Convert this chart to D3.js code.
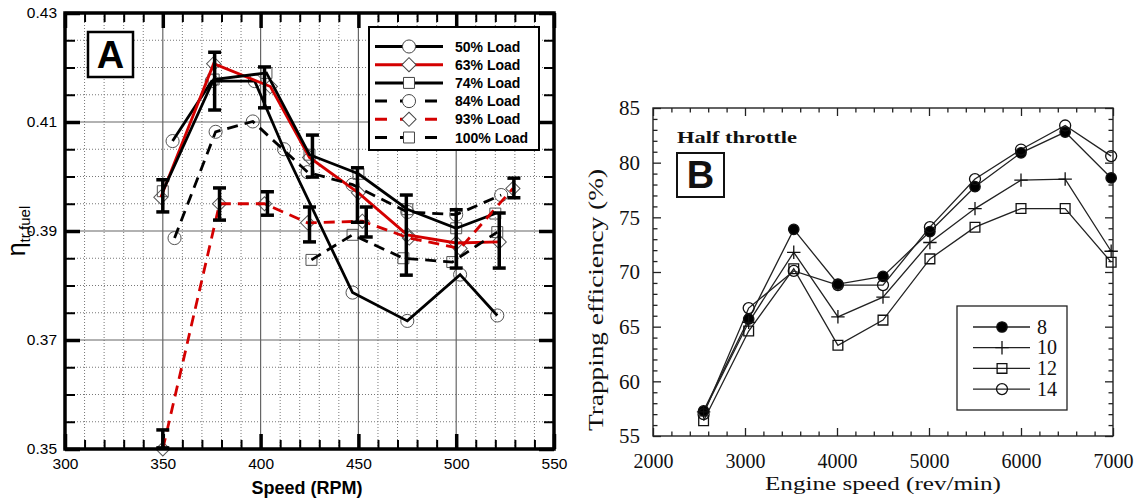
<!DOCTYPE html>
<html>
<head>
<meta charset="utf-8">
<script src="https://cdn.jsdelivr.net/npm/d3@7"></script>
<style>
body { margin: 0; background: #fff; }
svg { display: block; }
</style>
</head>
<body>
<svg id="chart" width="1139" height="502"></svg>
<script>
// ---- panel A data ----
speedTicks = [300, 350, 400, 450, 500, 550];
etaTicks = [0.35, 0.37, 0.39, 0.41, 0.43];
loadNames = ['50% Load', '63% Load', '74% Load', '84% Load', '93% Load', '100% Load'];

speed50 = [355, 375, 397, 412, 447, 475, 502, 521];
eta50 = [0.4065, 0.4175, 0.4175, 0.405, 0.3787, 0.3735, 0.382, 0.3745];
speed63 = [349, 376, 405, 425, 450, 475, 500, 522];
eta63 = [0.3962, 0.4207, 0.4165, 0.4035, 0.397, 0.3893, 0.3878, 0.388];
speed74 = [350, 376, 403, 425, 450, 475, 500, 520];
eta74 = [0.3973, 0.4178, 0.419, 0.404, 0.4005, 0.394, 0.3905, 0.3932];
speed84 = [356, 377, 396, 424, 447, 475, 500, 523];
eta84 = [0.3887, 0.4082, 0.4101, 0.4008, 0.3985, 0.3935, 0.393, 0.3966];
speed93 = [350, 379, 402, 424, 452, 476, 502, 529];
eta93 = [0.35, 0.395, 0.395, 0.3915, 0.3918, 0.3887, 0.3868, 0.3978];
speed100 = [426, 447, 473, 498, 521];
eta100 = [0.3847, 0.3893, 0.385, 0.3843, 0.3898];

errSpeed = [350, 376.5, 379, 402, 403.5, 426.5, 425, 449.5, 454, 474.5, 500, 522, 529.5, 350];
errLow = [0.3935, 0.4122, 0.392, 0.4126, 0.3929, 0.3999, 0.388, 0.3916, 0.3889, 0.3819, 0.3832, 0.3832, 0.3961, 0.3502];
errHigh = [0.3994, 0.4228, 0.3979, 0.4201, 0.3972, 0.4076, 0.3944, 0.4016, 0.3944, 0.3966, 0.3939, 0.3933, 0.3997, 0.3535];

// ---- panel B data ----
rpmTicks = [2000, 3000, 4000, 5000, 6000, 7000];
teTicks = [55, 60, 65, 70, 75, 80, 85];
ratioNames = ['8', '10', '12', '14'];
rpmB = [2550, 3040, 3530, 4010, 4500, 5010, 5500, 6000, 6480, 6980];
te8 = [57.3, 65.7, 73.9, 68.9, 69.6, 73.7, 77.8, 80.9, 82.8, 78.6];
te10 = [57.2, 65.4, 71.8, 65.9, 67.7, 72.7, 75.8, 78.4, 78.5, 71.9];
te12 = [56.4, 64.6, 70.3, 63.3, 65.6, 71.2, 74.1, 75.8, 75.8, 70.9];
te14 = [57.0, 66.7, 70.1, 68.8, 68.8, 74.1, 78.5, 81.2, 83.4, 80.6];

svg = d3.select('#chart');

function zip(xs, ys) {
    return xs.map(function(x, i) { return [x, ys[i]]; });
}

// custom thin plus symbol
plusType = {
    draw: function(ctx, size) {
        var r = Math.sqrt(size) / 2;
        ctx.moveTo(-r, 0); ctx.lineTo(r, 0);
        ctx.moveTo(0, -r); ctx.lineTo(0, r);
    }
};

function cleanAxis(g, font, size, color) {
    g.select('.domain').remove();
    g.attr('font-family', font).attr('font-size', size);
    g.selectAll('text').attr('fill', color);
}

/* ================= PANEL A ================= */
xA = d3.scaleLinear().domain([300, 550]).range([65, 554]);
yA = d3.scaleLinear().domain([0.35, 0.43]).range([449, 13]);
gA = svg.append('g');

minorSpeed = xA.ticks(25).filter(function(d) { return speedTicks.indexOf(d) < 0; });
minorEta = d3.range(0, 17).map(function(i) { return +(0.35 + i * 0.005).toFixed(3); })
    .filter(function(d) { return etaTicks.indexOf(d) < 0; });

// grid
gA.selectAll('.vdot').data(minorSpeed).enter().append('line')
    .attr('x1', function(d) { return xA(d); }).attr('x2', function(d) { return xA(d); })
    .attr('y1', yA(0.43)).attr('y2', yA(0.35))
    .attr('stroke', '#777').attr('stroke-width', 1).attr('stroke-dasharray', '1,2');
gA.selectAll('.hdot').data(minorEta).enter().append('line')
    .attr('y1', function(d) { return yA(d); }).attr('y2', function(d) { return yA(d); })
    .attr('x1', xA(300)).attr('x2', xA(550))
    .attr('stroke', '#777').attr('stroke-width', 1).attr('stroke-dasharray', '1,2');
gA.selectAll('.vmaj').data(speedTicks.slice(1, -1)).enter().append('line')
    .attr('x1', function(d) { return xA(d); }).attr('x2', function(d) { return xA(d); })
    .attr('y1', yA(0.43)).attr('y2', yA(0.35))
    .attr('stroke', '#666').attr('stroke-width', 1.2);
gA.selectAll('.hmaj').data(etaTicks.slice(1, -1)).enter().append('line')
    .attr('y1', function(d) { return yA(d); }).attr('y2', function(d) { return yA(d); })
    .attr('x1', xA(300)).attr('x2', xA(550))
    .attr('stroke', '#666').attr('stroke-width', 1.2);

// axes, ticks pointing inward
ax = gA.append('g').attr('transform', 'translate(0,' + yA(0.35) + ')')
    .call(d3.axisBottom(xA).tickValues(speedTicks).tickSize(-15).tickPadding(9).tickFormat(d3.format('d')));
cleanAxis(ax, 'Liberation Sans, Arial, sans-serif', 15.5, '#000');
ax.selectAll('line').attr('stroke-width', 3.5);
ax = gA.append('g').attr('transform', 'translate(0,' + yA(0.35) + ')')
    .call(d3.axisBottom(xA).tickValues(minorSpeed).tickSize(-9).tickFormat(''));
cleanAxis(ax, 'sans-serif', 10, '#000');
ax.selectAll('line').attr('stroke-width', 2);
ax = gA.append('g').attr('transform', 'translate(0,' + yA(0.43) + ')')
    .call(d3.axisTop(xA).tickValues(speedTicks).tickSize(-15).tickFormat(''));
cleanAxis(ax, 'sans-serif', 10, '#000');
ax.selectAll('line').attr('stroke-width', 3.5);
ax = gA.append('g').attr('transform', 'translate(0,' + yA(0.43) + ')')
    .call(d3.axisTop(xA).tickValues(minorSpeed).tickSize(-9).tickFormat(''));
cleanAxis(ax, 'sans-serif', 10, '#000');
ax.selectAll('line').attr('stroke-width', 2);

ax = gA.append('g').attr('transform', 'translate(' + xA(300) + ',0)')
    .call(d3.axisLeft(yA).tickValues(etaTicks).tickSize(-15).tickPadding(8).tickFormat(d3.format('.2f')));
cleanAxis(ax, 'Liberation Sans, Arial, sans-serif', 15.5, '#000');
ax.selectAll('line').attr('stroke-width', 3.5);
ax = gA.append('g').attr('transform', 'translate(' + xA(300) + ',0)')
    .call(d3.axisLeft(yA).tickValues(minorEta).tickSize(-10).tickFormat(''));
cleanAxis(ax, 'sans-serif', 10, '#000');
ax.selectAll('line').attr('stroke-width', 2);
ax = gA.append('g').attr('transform', 'translate(' + xA(550) + ',0)')
    .call(d3.axisRight(yA).tickValues(etaTicks).tickSize(-15).tickFormat(''));
cleanAxis(ax, 'sans-serif', 10, '#000');
ax.selectAll('line').attr('stroke-width', 3.5);
ax = gA.append('g').attr('transform', 'translate(' + xA(550) + ',0)')
    .call(d3.axisRight(yA).tickValues(minorEta).tickSize(-10).tickFormat(''));
cleanAxis(ax, 'sans-serif', 10, '#000');
ax.selectAll('line').attr('stroke-width', 2);

// series
seriesA = [zip(speed50, eta50), zip(speed63, eta63), zip(speed74, eta74),
           zip(speed84, eta84), zip(speed93, eta93), zip(speed100, eta100)];
colorA = ['#000', '#d40000', '#000', '#000', '#d40000', '#000'];
dashA = [null, null, null, '11,7', '11,7', '11,7'];
symA = [d3.symbolCircle, d3.symbolSquare, d3.symbolSquare, d3.symbolCircle, d3.symbolSquare, d3.symbolSquare];
symSizeA = [135, 100, 120, 135, 100, 120];
symRotA = [0, 45, 0, 0, 45, 0];

lineA = d3.line().x(function(d) { return xA(d[0]); }).y(function(d) { return yA(d[1]); });

seriesA.forEach(function(pts, i) {
    gA.append('g').selectAll('path').data(pts).enter().append('path')
        .attr('d', d3.symbol().type(symA[i]).size(symSizeA[i]))
        .attr('transform', function(d) { return 'translate(' + xA(d[0]) + ',' + yA(d[1]) + ') rotate(' + symRotA[i] + ')'; })
        .attr('fill', 'none').attr('stroke', '#555').attr('stroke-width', 1);
});
seriesA.forEach(function(pts, i) {
    gA.append('path').datum(pts)
        .attr('d', lineA)
        .attr('fill', 'none')
        .attr('stroke', colorA[i])
        .attr('stroke-width', 2.8)
        .attr('stroke-dasharray', dashA[i]);
});

// error bars
errA = errSpeed.map(function(s, i) { return {s: s, lo: errLow[i], hi: errHigh[i]}; });
eb = gA.append('g').attr('stroke', '#000').attr('stroke-width', 3.5);
eb.selectAll('.ev').data(errA).enter().append('line')
    .attr('x1', function(d) { return xA(d.s); }).attr('x2', function(d) { return xA(d.s); })
    .attr('y1', function(d) { return yA(d.lo); }).attr('y2', function(d) { return yA(d.hi); });
eb.selectAll('.et').data(errA).enter().append('line')
    .attr('x1', function(d) { return xA(d.s) - 6.5; }).attr('x2', function(d) { return xA(d.s) + 6.5; })
    .attr('y1', function(d) { return yA(d.hi); }).attr('y2', function(d) { return yA(d.hi); });
eb.selectAll('.eb').data(errA).enter().append('line')
    .attr('x1', function(d) { return xA(d.s) - 6.5; }).attr('x2', function(d) { return xA(d.s) + 6.5; })
    .attr('y1', function(d) { return yA(d.lo); }).attr('y2', function(d) { return yA(d.lo); });

// frame
gA.append('rect')
    .attr('x', xA(300)).attr('y', yA(0.43))
    .attr('width', xA(550) - xA(300)).attr('height', yA(0.35) - yA(0.43))
    .attr('fill', 'none').attr('stroke', '#000').attr('stroke-width', 3.5);

// label box "A"
gA.append('rect').attr('x', 88).attr('y', 32).attr('width', 45).attr('height', 45)
    .attr('fill', '#fff').attr('stroke', '#000').attr('stroke-width', 2.5);
gA.append('text').attr('x', 110.5).attr('y', 68).attr('text-anchor', 'middle')
    .attr('font-family', 'Liberation Sans, Arial, sans-serif').attr('font-weight', 'bold')
    .attr('font-size', 38).text('A');

// legend A
legA = gA.append('g');
legA.append('rect').attr('x', 369).attr('y', 27).attr('width', 170).attr('height', 123)
    .attr('fill', '#fff').attr('stroke', '#000').attr('stroke-width', 2);
loadNames.forEach(function(name, i) {
    var ly = 46.5 + i * 18.2;
    legA.append('line').attr('x1', 375).attr('x2', 443).attr('y1', ly).attr('y2', ly)
        .attr('stroke', colorA[i]).attr('stroke-width', 3).attr('stroke-dasharray', dashA[i] ? '12,13' : null);
    legA.append('path').attr('d', d3.symbol().type(symA[i]).size(symSizeA[i])())
        .attr('transform', 'translate(409,' + ly + ') rotate(' + symRotA[i] + ')')
        .attr('fill', '#fff').attr('stroke', '#444').attr('stroke-width', 1);
    legA.append('text').attr('x', 455).attr('y', ly + 5)
        .attr('font-family', 'Liberation Sans, Arial, sans-serif').attr('font-weight', 'bold')
        .attr('font-size', 14).text(name);
});

// axis titles A
gA.append('text').attr('x', 307).attr('y', 494).attr('text-anchor', 'middle')
    .attr('font-family', 'Liberation Sans, Arial, sans-serif').attr('font-weight', 'bold')
    .attr('font-size', 18).text('Speed (RPM)');
yl = gA.append('text').attr('transform', 'translate(25,231) rotate(-90)').attr('text-anchor', 'middle')
    .attr('font-family', 'Liberation Sans, Arial, sans-serif');
yl.append('tspan').attr('font-size', 25).text('η');
yl.append('tspan').attr('font-size', 15).attr('dy', 5).text('tr,fuel');

/* ================= PANEL B ================= */
xB = d3.scaleLinear().domain([2000, 7000]).range([653, 1113]);
yB = d3.scaleLinear().domain([55, 85]).range([436, 108]);
gB = svg.append('g');
serif = 'Liberation Serif, Times New Roman, serif';

minorRpm = d3.range(2000, 7001, 200).filter(function(d) { return rpmTicks.indexOf(d) < 0; });
minorTe = d3.range(55, 86, 1).filter(function(d) { return teTicks.indexOf(d) < 0; });

ax = gB.append('g').attr('transform', 'translate(0,' + yB(55) + ')')
    .call(d3.axisBottom(xB).tickValues(rpmTicks).tickSize(-8).tickPadding(18).tickFormat(d3.format('d')));
cleanAxis(ax, serif, 20, '#111');
ax = gB.append('g').attr('transform', 'translate(0,' + yB(55) + ')')
    .call(d3.axisBottom(xB).tickValues(minorRpm).tickSize(-4.5).tickFormat(''));
cleanAxis(ax, serif, 10, '#111');
ax = gB.append('g').attr('transform', 'translate(0,' + yB(85) + ')')
    .call(d3.axisTop(xB).tickValues(rpmTicks).tickSize(-8).tickFormat(''));
cleanAxis(ax, serif, 10, '#111');
ax = gB.append('g').attr('transform', 'translate(0,' + yB(85) + ')')
    .call(d3.axisTop(xB).tickValues(minorRpm).tickSize(-4.5).tickFormat(''));
cleanAxis(ax, serif, 10, '#111');
ax = gB.append('g').attr('transform', 'translate(' + xB(2000) + ',0)')
    .call(d3.axisLeft(yB).tickValues(teTicks).tickSize(-8).tickPadding(13).tickFormat(d3.format('d')));
cleanAxis(ax, serif, 21, '#111');
ax = gB.append('g').attr('transform', 'translate(' + xB(2000) + ',0)')
    .call(d3.axisLeft(yB).tickValues(minorTe).tickSize(-4.5).tickFormat(''));
cleanAxis(ax, serif, 10, '#111');
ax = gB.append('g').attr('transform', 'translate(' + xB(7000) + ',0)')
    .call(d3.axisRight(yB).tickValues(teTicks).tickSize(-8).tickFormat(''));
cleanAxis(ax, serif, 10, '#111');
ax = gB.append('g').attr('transform', 'translate(' + xB(7000) + ',0)')
    .call(d3.axisRight(yB).tickValues(minorTe).tickSize(-4.5).tickFormat(''));
cleanAxis(ax, serif, 10, '#111');
gB.selectAll('.tick line').attr('stroke', '#222').attr('stroke-width', 1.3);

gB.append('rect')
    .attr('x', xB(2000)).attr('y', yB(85))
    .attr('width', xB(7000) - xB(2000)).attr('height', yB(55) - yB(85))
    .attr('fill', 'none').attr('stroke', '#222').attr('stroke-width', 1.4);

seriesB = [te8, te10, te12, te14].map(function(v) { return zip(rpmB, v); });
symB = [d3.symbolCircle, plusType, d3.symbolSquare, d3.symbolCircle];
symSizeB = [85, 180, 95, 95];
fillB = ['#000', 'none', '#fff', '#fff'];

lineB = d3.line().x(function(d) { return xB(d[0]); }).y(function(d) { return yB(d[1]); });
seriesB.forEach(function(pts, i) {
    gB.append('path').datum(pts).attr('d', lineB)
        .attr('fill', 'none').attr('stroke', '#222').attr('stroke-width', 1.3);
});
seriesB.forEach(function(pts, i) {
    gB.append('g').selectAll('path').data(pts).enter().append('path')
        .attr('d', d3.symbol().type(symB[i]).size(symSizeB[i]))
        .attr('transform', function(d) { return 'translate(' + xB(d[0]) + ',' + yB(d[1]) + ')'; })
        .attr('fill', fillB[i]).attr('fill-opacity', i == 0 ? 1 : 0)
        .attr('stroke', '#111').attr('stroke-width', 1.3);
});

// legend B
legB = gB.append('g');
legB.append('rect').attr('x', 957).attr('y', 306).attr('width', 110).attr('height', 104)
    .attr('fill', '#fff').attr('stroke', '#222').attr('stroke-width', 1.3);
ratioNames.forEach(function(name, i) {
    var ly = 327 + i * 20.7;
    legB.append('line').attr('x1', 973).attr('x2', 1030).attr('y1', ly).attr('y2', ly)
        .attr('stroke', '#222').attr('stroke-width', 1.3);
    legB.append('path').attr('d', d3.symbol().type(symB[i]).size(symSizeB[i])())
        .attr('transform', 'translate(1002,' + ly + ')')
        .attr('fill', fillB[i]).attr('fill-opacity', i == 0 ? 1 : 0)
        .attr('stroke', '#111').attr('stroke-width', 1.3);
    legB.append('text').attr('x', 1037).attr('y', ly + 6.5)
        .attr('font-family', serif).attr('font-size', 20).attr('fill', '#111').text(name);
});

// titles B
gB.append('text').attr('x', 677).attr('y', 143).attr('font-family', serif)
    .attr('font-weight', 'bold').attr('font-size', 17).attr('textLength', 120)
    .attr('lengthAdjust', 'spacingAndGlyphs').attr('fill', '#111').text('Half throttle');
gB.append('rect').attr('x', 677).attr('y', 153).attr('width', 47).attr('height', 44)
    .attr('fill', '#fff').attr('stroke', '#111').attr('stroke-width', 2);
gB.append('text').attr('x', 700.5).attr('y', 188).attr('text-anchor', 'middle')
    .attr('font-family', 'Liberation Sans, Arial, sans-serif').attr('font-weight', 'bold')
    .attr('font-size', 38).attr('fill', '#111').text('B');
gB.append('text').attr('x', 883).attr('y', 490).attr('text-anchor', 'middle')
    .attr('font-family', serif).attr('font-size', 19).attr('fill', '#111')
    .attr('textLength', 236).attr('lengthAdjust', 'spacingAndGlyphs')
    .text('Engine speed (rev/min)');
gB.append('text').attr('transform', 'translate(603,300) rotate(-90)').attr('text-anchor', 'middle')
    .attr('font-family', serif).attr('font-size', 21).attr('fill', '#111')
    .attr('textLength', 262).attr('lengthAdjust', 'spacingAndGlyphs')
    .text('Trapping efficiency (%)');
</script>
</body>
</html>
